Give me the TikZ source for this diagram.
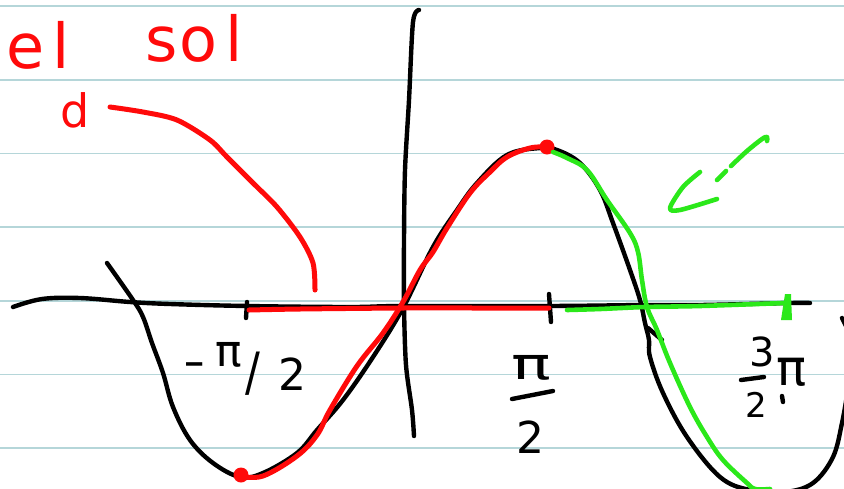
\documentclass[tikz,border=0pt]{standalone}
\usepackage{fontspec}
\setmainfont{DejaVu Sans}
\usepackage{graphicx}
\definecolor{gridc}{HTML}{B5D6D9}
\definecolor{penred}{HTML}{FF0A0A}
\definecolor{pengreen}{HTML}{2BE81A}
\begin{document}
\begin{tikzpicture}[x=1pt,y=-1pt,
  gridline/.style={gridc, line width=1.6pt},
  ink/.style={black, line width=4.4pt, line cap=round, line join=round},
  redink/.style={penred, line width=5pt, line cap=round, line join=round},
  greenink/.style={pengreen, line width=4.6pt, line cap=round, line join=round},
  lbl/.style={font=\fontsize{44}{44}\selectfont, inner sep=0pt},
  redlbl/.style={penred, font=\fontsize{62}{62}\selectfont, inner sep=0pt}]
\useasboundingbox (0,0) rectangle (844,488);
\fill[white] (0,0) rectangle (844,488);
% ruled paper
\foreach \yy in {6,79.7,153.4,227.1,300.8,374.5,448.2}
  \draw[gridline] (0,\yy) -- (844,\yy);
% axes
\draw[ink] plot[smooth, tension=0.6] coordinates {(13,307) (42,299) (80,298) (130,302) (170,304) (247,306) (350,307) (403,306) (549,306) (645,305) (700,305) (790,303) (810,303)};
\draw[ink] plot[smooth] coordinates {(419,10) (413,22) (409,100) (405,170) (404,240) (404,305) (406,365) (412,410) (414,436)};
% ticks
\draw[ink] (247,302) -- (246,318);
\draw[ink] (549,294) -- (551,322);
% black sine curve
\draw[ink] plot[smooth, tension=0.6] coordinates {(107,263) (133,300) (143,317) (152,343) (163,373) (173,407) (190,440) (213,463) (240,477) (263,473) (297,453) (317,430) (343,400) (373,357) (403,308) (433,247) (457,210) (477,183) (507,155) (540,148) (557,150) (580,163) (600,190) (613,223) (630,270) (640,300) (645,323) (649,340) (650,357) (663,393) (687,437) (720,477) (750,490) (785,492) (813,483) (833,457) (842,423) (847,395)};
\draw[ink] (648,328) -- (662,340);
\draw[ink] (842,318) -- (846,326);
% red parts
\draw[redink] plot[smooth] coordinates {(249,310) (300,309) (403,308) (480,308) (549,308)};
\draw[redink] plot[smooth, tension=0.6] coordinates {(240,476) (263,476) (297,456) (317,435) (330,410) (357,366) (383,333) (403,302) (420,270) (433,252) (447,228) (470,193) (490,172) (507,157) (530,148) (547,147)};
\fill[penred] (547,147) circle (7.5);
\fill[penred] (241,475) circle (7.5);
\draw[redink] plot[smooth] coordinates {(110,107) (143,112) (177,120) (210,140) (227,157) (253,183) (277,207) (300,237) (313,263) (315,290)};
% green parts
\draw[greenink] plot[smooth, tension=0.6] coordinates {(553,152) (567,158) (587,170) (607,200) (630,233) (638,252) (642,280) (647,307) (657,330) (670,363) (690,407) (707,437) (723,460) (747,483) (755,489) (770,489)};
\draw[greenink] plot[smooth] coordinates {(567,310) (600,309) (645,307) (700,306) (785,303)};
\fill[pengreen] (785,294) -- (791,294) -- (792,320) -- (781,320) -- cycle;
\draw[greenink] (717,180) -- (726,171);
\draw[greenink] plot[smooth] coordinates {(731,166) (747,151) (762,139) (767,137) (767,141)};
\draw[greenink] plot[smooth, tension=0.5] coordinates {(700,172) (683,187) (670,208) (680,210) (717,199)};
% red handwriting
\node[redlbl, anchor=base west] (wel) at (6,68) {e\hspace{8pt}l};
\node[redlbl, anchor=base west] (wsol) at (145,61) {s\hspace{2pt}o\hspace{8pt}l};
\node[redlbl, font=\fontsize{46}{46}\selectfont, anchor=base west] (wd) at (60,127) {d};
% labels
\node[lbl, anchor=base west] (lneg) at (183,390) {\raisebox{14pt}{\scalebox{1.4}[1]{-}}\hspace{10pt}\raisebox{24pt}{π}\hspace{4pt}\scalebox{1}[1.2]{/}\hspace{18pt}2};
\node[lbl] (lpitop) at (531,368) {\scalebox{1.5}[1]{π}};
\draw[ink] (512,399) -- (553,391);
\node[lbl] (lpibot) at (530,437) {2};
\node[lbl, font=\fontsize{40}{40}\selectfont] (lthree) at (762,352) {3};
\draw[ink] (741,380) -- (764,377);
\node[lbl, font=\fontsize{34}{34}\selectfont] (ltwo) at (756,405) {2};
\node[lbl, font=\fontsize{50}{50}\selectfont] (lpi) at (792,372) {π};
\draw[ink] (782,396) -- (783,402);
\end{tikzpicture}
\end{document}
